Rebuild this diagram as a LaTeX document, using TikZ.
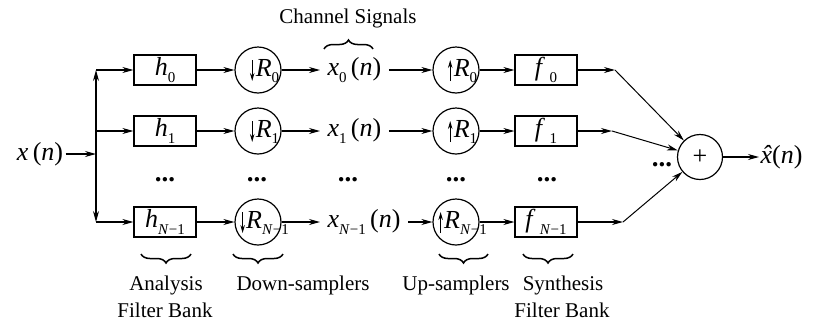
\documentclass[tikz,border=0pt]{standalone}
\usepackage{fontspec}
\setmainfont{Liberation Serif}
\usetikzlibrary{arrows.meta,decorations.pathreplacing,calc}
\newcommand\mv[1]{\textit{#1}}
\newcommand\ssub[1]{\raisebox{-0.26em}{\fontsize{15}{15}\selectfont #1}}
\newcommand\Nm{\textit{N}\char"2212 1}
\newcommand\mfont{\fontsize{26}{30}\selectfont}
\newcommand\tfont{\fontsize{21}{25}\selectfont}
\newcommand\xhat{\textit{\accent"02C6 x}}
\begin{document}
\begin{tikzpicture}[x=1pt,y=-1pt, line width=1.2pt,
  >={Stealth[length=11pt,width=6pt]},
  box/.style={draw, minimum width=62pt, minimum height=30pt, inner sep=0pt, font=\mfont},
  samp/.style={draw, circle, minimum size=46pt, inner sep=0pt},
  samplab/.style={font=\mfont, inner sep=0pt},
  sig/.style={font=\mfont, inner sep=0pt, anchor=west},
  dotsn/.style={font=\fontsize{27}{27}\selectfont\bfseries, inner sep=0pt},
  lab/.style={font=\tfont, inner sep=0pt},
  brc/.style={decorate, decoration={brace, amplitude=9pt}, line width=1.5pt},
  small/.style={line width=1.1pt, -{Stealth[length=8pt,width=4.5pt]}}]
\useasboundingbox (0,0) rectangle (821,322);

% input and split
\node[font=\mfont, inner sep=2pt] (xin) at (40,154) {\mv{x}\,(\mv{n})};
\coordinate (J) at (96,154);
\coordinate (T) at (96,70);
\coordinate (M) at (96,131);
\coordinate (B) at (96,222);
\draw[->] (xin) -- (J);
\draw[->] (J) -- (T);
\draw[->] (J) -- (B);

% analysis filters
\node[box] (h0) at (165,70) {\mv{h}\ssub{0}};
\node[box] (h1) at (165,131) {\mv{h}\ssub{1}};
\node[box] (h2) at (165,222) {\mv{h}\ssub{\Nm}};
\draw[->] (T) -- (h0);
\draw[->] (M) -- (h1);
\draw[->] (B) -- (h2);

% down-samplers
\node[samp] (d0) at (258,70) {};
\node[samp] (d1) at (258,131) {};
\node[samp] (d2) at (258,222) {};
\node[samplab] (dl0) at (264,71) {\hspace{7pt}\mv{R}\ssub{0}};
\node[samplab] (dl1) at (264,132) {\hspace{7pt}\mv{R}\ssub{1}};
\node[samplab] (dl2) at (264,223) {\hspace{7pt}\mv{R}\ssub{\Nm}};
\draw[small] ([xshift=4pt,yshift=11pt]dl0.west) -- ([xshift=4pt,yshift=-10pt]dl0.west);
\draw[small] ([xshift=4pt,yshift=11pt]dl1.west) -- ([xshift=4pt,yshift=-10pt]dl1.west);
\draw[small] ([xshift=4pt,yshift=11pt]dl2.west) -- ([xshift=4pt,yshift=-10pt]dl2.west);
\draw[->] (h0) -- (d0);
\draw[->] (h1) -- (d1);
\draw[->] (h2) -- (d2);

% channel signals
\node[sig, inner xsep=7pt] (s0) at (320,70) {\mv{x}\ssub{0}\,(\mv{n})};
\node[sig, inner xsep=7pt] (s1) at (320,131) {\mv{x}\ssub{1}\,(\mv{n})};
\node[sig, inner xsep=7pt] (s2) at (320,222) {\mv{x}\ssub{\Nm}\,(\mv{n})};
\draw[->] (d0) -- (s0);
\draw[->] (d1) -- (s1);
\draw[->] (d2) -- (s2);

% up-samplers
\node[samp] (u0) at (456,70) {};
\node[samp] (u1) at (456,131) {};
\node[samp] (u2) at (456,222) {};
\node[samplab] (ul0) at (462,71) {\hspace{7pt}\mv{R}\ssub{0}};
\node[samplab] (ul1) at (462,132) {\hspace{7pt}\mv{R}\ssub{1}};
\node[samplab] (ul2) at (462,223) {\hspace{7pt}\mv{R}\ssub{\Nm}};
\draw[small] ([xshift=4pt,yshift=-10pt]ul0.west) -- ([xshift=4pt,yshift=11pt]ul0.west);
\draw[small] ([xshift=4pt,yshift=-10pt]ul1.west) -- ([xshift=4pt,yshift=11pt]ul1.west);
\draw[small] ([xshift=4pt,yshift=-10pt]ul2.west) -- ([xshift=4pt,yshift=11pt]ul2.west);
\draw[->] (s0) -- (u0);
\draw[->] (s1) -- (u1);
\draw[->] (s2) -- (u2);

% synthesis filters
\node[box] (f0) at (546,70) {\mv{f}\,\ssub{0}};
\node[box] (f1) at (546,131) {\mv{f}\,\ssub{1}};
\node[box] (f2) at (546,222) {\mv{f}\,\ssub{\Nm}};
\draw[->] (u0) -- (f0);
\draw[->] (u1) -- (f1);
\draw[->] (u2) -- (f2);

% summation
\node[draw, circle, minimum size=45pt, inner sep=0pt, font=\mfont] (plus) at (700,157) {+};
\coordinate (p0) at (615,70);
\coordinate (p1) at (612,131);
\coordinate (p2) at (623,222);
\draw[->] (f0) -- (p0);
\draw[->] (f1) -- (p1);
\draw[->] (f2) -- (p2);
\draw[->, line width=1pt] (p0) -- (plus);
\draw[->, line width=1pt] (p1) -- (plus);
\draw[->, line width=1pt] (p2) -- (plus);
\node[font=\mfont, anchor=west, inner sep=1pt] (xout) at (759,157) {\xhat(\mv{n})};
\draw[->] (plus) -- (xout);

% dots
\node[dotsn] at (165,180) {...};
\node[dotsn] at (257,180) {...};
\node[dotsn] at (348,180) {...};
\node[dotsn] at (456,180) {...};
\node[dotsn] at (547,180) {...};
\node[dotsn] at (662,165) {...};

% braces and labels
\draw[brc] (324,49) -- (373,49);
\node[lab] (cs) at (348,18) {Channel Signals};
\draw[brc] (191,254) -- (141,254);
\draw[brc] (283,254) -- (233,254);
\draw[brc] (488,254) -- (439,254);
\draw[brc] (573,254) -- (523,254);
\node[lab] at (166,285) {Analysis};
\node[lab] at (165,310) {Filter Bank};
\node[lab] at (303,285) {Down-samplers};
\node[lab] at (456,285) {Up-samplers};
\node[lab] at (563,285) {Synthesis};
\node[lab] at (562,310) {Filter Bank};
\end{tikzpicture}
\end{document}
